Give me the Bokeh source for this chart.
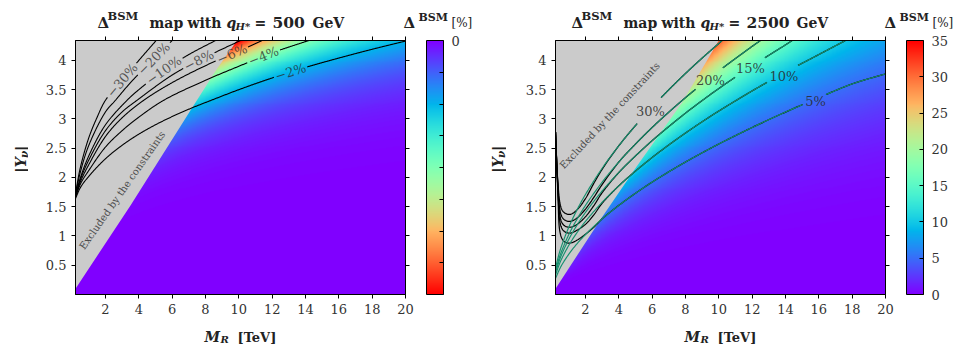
import numpy as np
from bokeh.plotting import figure
from bokeh.layouts import row, column
from bokeh.models import (LinearColorMapper, ColorBar, FixedTicker, LinearAxis,
                          Range1d, NumeralTickFormatter, CustomJSTickFormatter)
from bokeh.core.properties import value
from bokeh.embed import file_html
from bokeh.resources import INLINE

# ---------------- axes ----------------
M_MIN, M_MAX = 0.2, 20.0
Y_MIN, Y_MAX = 0.0, 4.34
x_ticks = [2, 4, 6, 8, 10, 12, 14, 16, 18, 20]
y_ticks = [0.5, 1, 1.5, 2, 2.5, 3, 3.5, 4]
left_cbar_ticks = [0, -1, -2, -3, -4, -5, -6, -7, -8]
right_cbar_ticks = [0, 5, 10, 15, 20, 25, 30, 35]
left_cbar_low, left_cbar_high = -8.0, 0.0
right_cbar_low, right_cbar_high = 0.0, 35.0
left_q, right_q = "500", "2500"

# -------------- excluded region boundary --------------
left_bnd_M = [0.2, 3.5, 7.2, 8.7, 9.9]
left_bnd_Y = [0.1, 1.52, 3.19, 3.86, 4.34]
right_bnd_M = [0.2, 2.97, 5.1, 7.8, 10.0]
right_bnd_Y = [0.1, 1.31, 2.2, 3.28, 4.34]

# -------------- map model parameters --------------
left_ref_level, left_ref_M, left_ref_Y, left_pY, left_pM = -2.0, 20.0, 4.33, 6.5, 2.0
right_ref_level, right_ref_M, right_ref_Y, right_pY, right_pM = 10.0, 17.6, 4.33, 3.5, 2.0

# -------------- left contours (q = 500 GeV) --------------
lc2_M = [0.2, 0.5, 1, 2, 3, 4, 5, 6, 7.2, 8, 10, 12, 14, 16, 18, 20]
lc2_Y = [1.64, 1.83, 2.02, 2.32, 2.55, 2.74, 2.9, 3.04, 3.19, 3.28, 3.50, 3.70, 3.88, 4.04, 4.19, 4.33]
lc4_M = [0.2, 0.5, 1, 2, 3, 4, 5.5, 8, 10, 12, 14.2]
lc4_Y = [1.66, 1.89, 2.12, 2.52, 2.8, 3.03, 3.32, 3.66, 3.9, 4.13, 4.34]
lc6_M = [0.2, 0.5, 1, 2, 3, 4.3, 6, 8, 10, 11.4]
lc6_Y = [1.67, 1.93, 2.22, 2.7, 3.02, 3.32, 3.62, 3.91, 4.16, 4.34]
lc8_M = [0.2, 0.5, 1, 2, 3, 3.9, 6, 7.6, 10.1]
lc8_Y = [1.68, 1.97, 2.3, 2.8, 3.12, 3.32, 3.75, 4.0, 4.34]
lc10_M = [0.2, 0.5, 1, 2, 3.3, 4, 5.5, 7, 8.6]
lc10_Y = [1.69, 2.0, 2.37, 2.9, 3.32, 3.5, 3.83, 4.1, 4.34]
lc20_M = [0.2, 0.5, 1, 2, 2.6, 3.5, 4.9, 6.0]
lc20_Y = [1.71, 2.1, 2.55, 3.12, 3.32, 3.62, 4.03, 4.34]
lc30_M = [0.2, 0.5, 1, 1.5, 2, 3, 4, 5.04]
lc30_Y = [1.73, 2.18, 2.68, 3.03, 3.32, 3.66, 4.0, 4.34]
left_levels = [-2, -4, -6, -8, -10, -20, -30]
left_label_text = ["\u22122%", "\u22124%", "\u22126%", "\u22128%", "\u221210%", "\u221220%", "\u221230%"]
left_label_M = [13.1, 11.5, 9.6, 7.6, 5.5, 4.9, 3.0]

# -------------- right contours (q = 2500 GeV) --------------
rt_M = [0.2, 0.5, 1, 1.5, 2, 3, 4, 5, 6, 7, 8, 9, 10, 12, 14, 16, 18, 20]
rt5_Y = [0.275, 0.464, 0.690, 0.870, 1.025, 1.293, 1.523, 1.730, 1.921, 2.097, 2.264, 2.421, 2.572, 2.854, 3.117, 3.364, 3.598, 3.77]
rt10_M = [0.2, 0.5, 1, 1.5, 2, 3, 4, 5, 6, 7, 8, 9, 10, 12, 14, 16, 17.6]
rt10_Y = [0.335, 0.566, 0.841, 1.060, 1.250, 1.576, 1.857, 2.109, 2.341, 2.556, 2.759, 2.952, 3.135, 3.479, 3.800, 4.10, 4.34]
rt15_M = [0.2, 0.5, 1, 1.5, 2, 3, 4, 5, 6, 7, 8, 9, 10, 12, 14, 14.4]
rt15_Y = [0.376, 0.635, 0.944, 1.190, 1.403, 1.769, 2.085, 2.368, 2.629, 2.870, 3.099, 3.314, 3.520, 3.906, 4.266, 4.34]
rt20_M = [0.2, 0.5, 1, 1.5, 2, 3, 4, 5, 6, 7, 8, 9, 10, 12, 12.5]
rt20_Y = [0.409, 0.690, 1.025, 1.292, 1.523, 1.921, 2.264, 2.571, 2.854, 3.116, 3.364, 3.598, 3.821, 4.240, 4.34]
rt30_M = [0.2, 0.5, 1, 1.5, 2, 3, 4, 5, 6, 7, 8, 9, 10, 10.2]
rt30_Y = [0.459, 0.775, 1.151, 1.451, 1.710, 2.157, 2.542, 2.887, 3.204, 3.499, 3.777, 4.040, 4.290, 4.34]

rb_small_M = [0.2, 0.28, 0.36, 0.45, 0.6, 0.8, 1.1, 1.5, 2, 2.5, 3]
rb5_Y = [2.78, 2.2, 1.6, 1.1, 0.95, 0.89, 0.88, 0.93, 1.03, 1.15, 1.293]
rb10_Y = [2.78, 2.2, 1.7, 1.27, 1.12, 1.065, 1.05, 1.10, 1.20, 1.36, 1.56]
rb15_Y = [2.78, 2.2, 1.75, 1.37, 1.22, 1.165, 1.15, 1.20, 1.33, 1.52, 1.74]
rb20_Y = [2.78, 2.2, 1.8, 1.47, 1.32, 1.265, 1.25, 1.31, 1.46, 1.66, 1.88]
rb30_Y = [2.78, 2.2, 1.85, 1.59, 1.44, 1.385, 1.37, 1.45, 1.64, 1.90, 2.14]
right_levels = [5, 10, 15, 20, 30]
right_label_text = ["5%", "10%", "15%", "20%", "30%"]
right_label_M = [15.8, 13.9, 11.9, 9.5, 5.9]
right_label_Y = [3.29, 3.73, 3.86, 3.66, 3.12]

# ---------------- styling / geometry constants ----------------
FW, FH = 330, 254
SX = FW / (M_MAX - M_MIN)
SY = FH / (Y_MAX - Y_MIN)
SERIF = "DejaVu Serif"
GREY = "#cbcbcb"
TEAL = "#16906e"
TOP_H, MAIN_TOP, MAIN_BOT, BOT_H = 32, 8, 30, 20
MAIN_H = MAIN_TOP + FH + MAIN_BOT
STRIP_L_W, PL_W, STRIP_R_W, PR_W = 28, 448, 30, 448
TOTAL_W = STRIP_L_W + PL_W + STRIP_R_W + PR_W


def rainbow(n=256):
    x = np.linspace(0, 1, n)
    r = np.clip(np.abs(2 * x - 0.5), 0, 1)
    g = np.clip(np.sin(np.pi * x), 0, 1)
    b = np.clip(np.cos(np.pi * x / 2), 0, 1)
    return ["#%02x%02x%02x" % (int(round(255 * a)), int(round(255 * c)), int(round(255 * d)))
            for a, c, d in zip(r, g, b)]


def cr_dense(Ms, Ys, step=0.6):
    """centripetal Catmull-Rom through the read points, in pixel space"""
    P = np.column_stack([(np.asarray(Ms, float) - M_MIN) * SX, (np.asarray(Ys, float) - Y_MIN) * SY])
    P = np.vstack([2 * P[0] - P[1], P, 2 * P[-1] - P[-2]])
    out = [P[1]]
    for i in range(1, len(P) - 2):
        p0, p1, p2, p3 = P[i - 1], P[i], P[i + 1], P[i + 2]
        t0 = 0.0
        t1 = t0 + max(np.hypot(*(p1 - p0)), 1e-6) ** 0.5
        t2 = t1 + max(np.hypot(*(p2 - p1)), 1e-6) ** 0.5
        t3 = t2 + max(np.hypot(*(p3 - p2)), 1e-6) ** 0.5
        L = np.hypot(*(p2 - p1))
        n = max(2, int(L / step))
        for t in np.linspace(t1, t2, n + 1)[1:]:
            A1 = (t1 - t) / (t1 - t0) * p0 + (t - t0) / (t1 - t0) * p1
            A2 = (t2 - t) / (t2 - t1) * p1 + (t - t1) / (t2 - t1) * p2
            A3 = (t3 - t) / (t3 - t2) * p2 + (t - t2) / (t3 - t2) * p3
            B1 = (t2 - t) / (t2 - t0) * A1 + (t - t0) / (t2 - t0) * A2
            B2 = (t3 - t) / (t3 - t1) * A2 + (t - t1) / (t3 - t1) * A3
            out.append((t2 - t) / (t2 - t1) * B1 + (t - t1) / (t2 - t1) * B2)
    return np.array(out)


def label_spot(dense, M):
    tx = (M - M_MIN) * SX
    i = int(np.argmin(np.abs(dense[:, 0] - tx)))
    j0, j1 = max(i - 8, 0), min(i + 8, len(dense) - 1)
    d = dense[j1] - dense[j0]
    return dense[i], np.arctan2(d[1], d[0])


def cut(dense, holes):
    keep = np.ones(len(dense), bool)
    for (cx, cy, r) in holes:
        keep &= np.hypot(dense[:, 0] - cx, dense[:, 1] - cy) > r
    xs, ys, cur = [], [], []
    for k, pt in zip(keep, dense):
        if k:
            cur.append(pt)
        else:
            if len(cur) > 1:
                a = np.array(cur)
                xs.append(list(a[:, 0] / SX + M_MIN)); ys.append(list(a[:, 1] / SY + Y_MIN))
            cur = []
    if len(cur) > 1:
        a = np.array(cur)
        xs.append(list(a[:, 0] / SX + M_MIN)); ys.append(list(a[:, 1] / SY + Y_MIN))
    return xs, ys


def make_fig(min_left, min_right):
    p = figure(frame_width=FW, frame_height=FH, x_range=Range1d(M_MIN, M_MAX), y_range=Range1d(Y_MIN, Y_MAX),
               output_backend="svg", toolbar_location=None, min_border_left=min_left,
               min_border_right=min_right, min_border_top=MAIN_TOP, min_border_bottom=MAIN_BOT,
               title=None)
    p.grid.visible = False
    p.outline_line_color = "black"
    p.outline_line_width = 1
    for ax in [p.xaxis[0], p.yaxis[0]]:
        ax.axis_label = None
        ax.major_label_text_font = SERIF
        ax.major_label_text_font_size = "13px"
        ax.major_label_text_color = "#333333"
        ax.axis_line_color = "black"
        ax.major_tick_line_color = "black"
        ax.major_tick_out = 4
        ax.major_tick_in = 0
        ax.minor_tick_line_color = None
        ax.formatter = NumeralTickFormatter(format="0.[0]")
        ax.major_label_standoff = 5
    p.xaxis[0].ticker = FixedTicker(ticks=x_ticks)
    p.yaxis[0].ticker = FixedTicker(ticks=y_ticks)
    for loc, tk in (("above", x_ticks), ("right", y_ticks)):
        ax = LinearAxis(ticker=FixedTicker(ticks=tk), major_label_text_color=None,
                        major_label_text_font_size="1px", axis_label=None,
                        major_tick_out=4, major_tick_in=0, minor_tick_line_color=None,
                        axis_line_color="black", major_label_standoff=0)
        p.add_layout(ax, loc)
    return p


def strip(w, h):
    s = figure(width=w, height=h, x_range=Range1d(0, w), y_range=Range1d(0, h), output_backend="svg",
               toolbar_location=None, min_border=0, x_axis_location=None, y_axis_location=None,
               title=None)
    s.grid.visible = False
    s.outline_line_color = None
    return s


def heat(ref_level, ref_M, ref_Y, pY, pM):
    Ms = np.linspace(M_MIN, M_MAX, 400)
    Ys = np.linspace(Y_MIN, Y_MAX, 260)
    MM, YY = np.meshgrid(Ms, Ys)
    return ref_level * (YY / ref_Y) ** pY * (ref_M / MM) ** pM


def put(s, h, top, x, page_y, txt, size, style="bold", color="#222222", angle=0.0, align="left"):
    s.text(x=[x], y=[h - (page_y - top)], text=[txt], angle=[angle], text_align=align,
           text_baseline="alphabetic", text_font=value(SERIF), text_font_size=size,
           text_font_style=style, text_color=color)


pal = rainbow()

# =================== LEFT ===================
pL = make_fig(47, 71)
mapL = LinearColorMapper(palette=pal[::-1], low=left_cbar_low, high=left_cbar_high)
pL.image(image=[heat(left_ref_level, left_ref_M, left_ref_Y, left_pY, left_pM)], x=M_MIN, y=Y_MIN,
         dw=M_MAX - M_MIN, dh=Y_MAX - Y_MIN, color_mapper=mapL)
pL.patch(x=left_bnd_M + [M_MIN], y=left_bnd_Y + [Y_MAX], fill_color=GREY, line_color=None)

left_lines = [(lc2_M, lc2_Y), (lc4_M, lc4_Y), (lc6_M, lc6_Y), (lc8_M, lc8_Y), (lc10_M, lc10_Y),
              (lc20_M, lc20_Y), (lc30_M, lc30_Y)]
lx, ly, ltx, lty, lta, ltt = [], [], [], [], [], []
for (Ms, Ys), txt, lm in zip(left_lines, left_label_text, left_label_M):
    d = cr_dense(Ms, Ys)
    c, ang = label_spot(d, lm)
    r = 0.5 * (len(txt) * 0.78 * 13) + 2
    xs, ys = cut(d, [(c[0], c[1], r)])
    lx += xs; ly += ys
    ltx.append(c[0] / SX + M_MIN); lty.append(c[1] / SY + Y_MIN); lta.append(ang); ltt.append(txt)
pL.multi_line(xs=lx, ys=ly, line_color="black", line_width=1.1)
pL.text(x=ltx, y=lty, text=ltt, angle=lta, text_align="center", text_baseline="middle",
        text_font=value(SERIF), text_font_size="13px", text_color="#2a2a2a", text_alpha=0.75)
pL.text(x=[3.0], y=[1.78], text=["Excluded by the constraints"], angle=[np.deg2rad(55)],
        text_align="center", text_baseline="middle", text_font=value(SERIF), text_font_size="10px",
        text_color="#4a4a4a")

cbL = ColorBar(color_mapper=mapL, ticker=FixedTicker(ticks=left_cbar_ticks),
               formatter=CustomJSTickFormatter(code="return tick < 0 ? '\u2212' + Math.abs(tick) : String(tick)"),
               width=17, height=FH, padding=0, margin=0, label_standoff=8,
               major_label_text_font=SERIF, major_label_text_font_size="13px",
               major_label_text_color="#333333", bar_line_color="black", major_tick_line_color="black",
               major_tick_in=4, major_tick_out=0, location=(17, 0))
pL.add_layout(cbL, "right")

# =================== RIGHT ===================
pR = make_fig(49, 69)
mapR = LinearColorMapper(palette=pal, low=right_cbar_low, high=right_cbar_high)
pR.image(image=[heat(right_ref_level, right_ref_M, right_ref_Y, right_pY, right_pM)], x=M_MIN, y=Y_MIN,
         dw=M_MAX - M_MIN, dh=Y_MAX - Y_MIN, color_mapper=mapR)
pR.patch(x=right_bnd_M + [M_MIN], y=right_bnd_Y + [Y_MAX], fill_color=GREY, line_color=None)

teal_lines = [(rt_M, rt5_Y), (rt10_M, rt10_Y), (rt15_M, rt15_Y), (rt20_M, rt20_Y), (rt30_M, rt30_Y)]
black_Y = [rb5_Y, rb10_Y, rb15_Y, rb20_Y, rb30_Y]
bx, by, tx_, ty_ = [], [], [], []
for (Ms, Ys), bY, txt, lm, lyv in zip(teal_lines, black_Y, right_label_text, right_label_M, right_label_Y):
    dt = cr_dense(Ms, Ys)
    hole = [((lm - M_MIN) * SX, (lyv - Y_MIN) * SY, 0.5 * len(txt) * 0.74 * 13 + 3)]
    keepM = [m for m in Ms if m > rb_small_M[-1]]
    keepY = [y for m, y in zip(Ms, Ys) if m > rb_small_M[-1]]
    db = cr_dense(rb_small_M + keepM, bY + keepY)
    xs, ys = cut(db, hole); bx += xs; by += ys
    xs, ys = cut(dt, hole); tx_ += xs; ty_ += ys
pR.multi_line(xs=bx, ys=by, line_color="black", line_width=1.25)
pR.multi_line(xs=tx_, ys=ty_, line_color=TEAL, line_width=1.15)
pR.text(x=right_label_M, y=right_label_Y, text=right_label_text, text_align="center",
        text_baseline="middle", text_font=value(SERIF), text_font_size="13px",
        text_color="#2a2a2a", text_alpha=0.85)
pR.text(x=[3.46], y=[3.06], text=["Excluded by the constraints"], angle=[np.deg2rad(47)],
        text_align="center", text_baseline="middle", text_font=value(SERIF), text_font_size="10px",
        text_color="#4a4a4a")

cbR = ColorBar(color_mapper=mapR, ticker=FixedTicker(ticks=right_cbar_ticks),
               width=17, height=FH, padding=0, margin=0, label_standoff=8,
               major_label_text_font=SERIF, major_label_text_font_size="13px",
               major_label_text_color="#333333", bar_line_color="black", major_tick_line_color="black",
               major_tick_in=4, major_tick_out=0, location=(17, 0))
pR.add_layout(cbR, "right")

# =================== text strips ===================
top = strip(TOTAL_W, TOP_H)
for dx, q in ((0, left_q), (474, right_q)):
    put(top, TOP_H, 0, 97 + dx, 22, "\u0394", "15px")
    put(top, TOP_H, 0, 107 + dx, 15, "BSM", "11.5px")
    put(top, TOP_H, 0, 149 + dx, 22, "map", "14px")
    put(top, TOP_H, 0, 187 + dx, 22, "with", "14px")
    put(top, TOP_H, 0, 226 + dx, 22, "q", "14px", style="bold italic")
    put(top, TOP_H, 0, 235 + dx, 26, "H*", "10px", style="bold italic")
    put(top, TOP_H, 0, 254 + dx, 22, "=", "14px")
    put(top, TOP_H, 0, 272 + dx, 22, q, "15.5px")
    put(top, TOP_H, 0, 312 + dx + (0 if q == left_q else 10), 22, "GeV", "14px")
for cx in (403, 884):
    put(top, TOP_H, 0, cx, 22.5, "\u0394", "15px")
    put(top, TOP_H, 0, cx + 15, 17, "BSM", "11px")
    put(top, TOP_H, 0, cx + 48, 22.5, "[%]", "12px", style="normal")

bot = strip(TOTAL_W, BOT_H)
BOT_TOP = TOP_H + MAIN_H
for mx in (204, 684):
    put(bot, BOT_H, BOT_TOP, mx, 336.5, "M", "14px", style="bold italic")
    put(bot, BOT_H, BOT_TOP, mx + 16, 339, "R", "10px", style="bold italic")
    put(bot, BOT_H, BOT_TOP, mx + 33, 336.5, "[TeV]", "13px")

ys_list = []
for w, bx0 in ((STRIP_L_W, 20), (STRIP_R_W, 21)):
    s = strip(w, MAIN_H)
    put(s, MAIN_H, TOP_H, bx0, 184, "|Y", "14.5px", style="bold italic", angle=np.pi / 2)
    put(s, MAIN_H, TOP_H, bx0 + 3, 167, "\u03bd", "10.5px", style="bold italic", angle=np.pi / 2)
    put(s, MAIN_H, TOP_H, bx0, 159, "|", "14.5px", style="bold italic", angle=np.pi / 2)
    ys_list.append(s)

layout = column(top, row(ys_list[0], pL, ys_list[1], pR), bot)
open("out.html", "w").write(file_html(layout, INLINE))
